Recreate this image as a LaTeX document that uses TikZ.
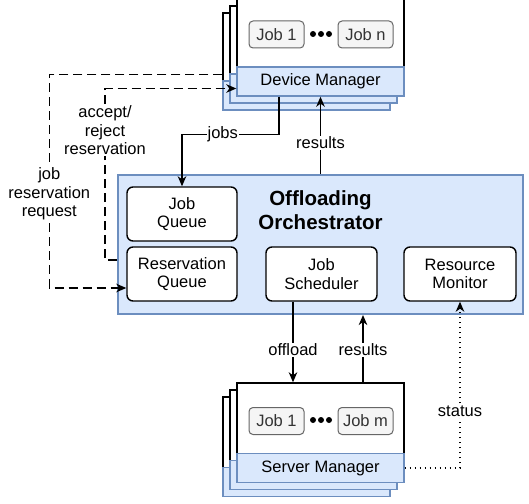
\documentclass[tikz,border=0pt]{standalone}
\usepackage{fontspec}
\setmainfont{Liberation Sans}
\usetikzlibrary{arrows.meta,positioning,calc}
\definecolor{offBlue}{HTML}{DAE8FC}
\definecolor{offBorder}{HTML}{6C8EBF}
\definecolor{chipFill}{HTML}{F5F5F5}
\definecolor{chipLine}{HTML}{666666}
\definecolor{chipText}{HTML}{333333}

\begin{document}
\begin{tikzpicture}[x=1pt, y=-1pt,
  font=\fontsize{16.5}{18.5}\selectfont,
  orch/.style={draw=offBorder, fill=offBlue, line width=2pt,
               minimum width=405pt, minimum height=139pt},
  comp/.style={draw, fill=white, line width=1.4pt, rounded corners=6pt,
               minimum width=110pt, minimum height=54pt, align=center},
  body/.style={draw, fill=white, line width=1.4pt, minimum width=167pt, minimum height=71pt},
  bar/.style={draw=offBorder, fill=offBlue, line width=1.4pt,
              minimum width=167pt, minimum height=29pt},
  chip/.style={draw=chipLine, fill=chipFill, text=chipText, line width=1pt,
               rounded corners=4pt, minimum width=55pt, minimum height=27pt},
  arr/.style={line width=1.4pt, -{Stealth[length=10pt,width=8.5pt,inset=3pt]}},
  req/.style={arr, dash pattern=on 9pt off 5pt},
  mon/.style={arr, dash pattern=on 1.4pt off 3.6pt},
  lbl/.style={fill=white, inner sep=1pt, align=center}
]
  \useasboundingbox (0,0) rectangle (529,503);

  % orchestrator and its parts
  \node[orch] (orch) at (320.5,244.5) {};
  \node[font=\fontsize{20.5}{24}\selectfont\bfseries, align=center] (title) at (320.5,210) {Offloading\\Orchestrator};
  \node[comp] (jq) at (182,214) {Job\\Queue};
  \node[comp] (rq) at (182,274) {Reservation\\Queue};
  \node[comp, minimum width=111pt] (js) at (321.5,274) {Job\\Scheduler};
  \node[comp, minimum width=112pt] (rm) at (460,274) {Resource\\Monitor};

  % device manager stack
  \foreach \d/\n in {14/c,7/b}{
    \node[body, minimum height=68pt] (dbody\n) at (320.5-\d,33+\d) {};
    \node[bar] (dbar\n) at (320.5-\d,81.5+\d) {};
  }
  \node[body, minimum height=68pt] (dbody) at (320.5,33) {};
  \node[bar] (dm) at (320.5,81.5) {Device Manager};
  \node[chip] (dj1) at (276.5,34.5) {Job 1};
  \node[chip] (djn) at (365.5,34.5) {Job n};
  \foreach \x in {313,321,329} \fill (\x,34) circle (3pt);

  % server manager stack
  \foreach \d/\n in {14/c,7/b}{
    \node[body] (sbody\n) at (320.5-\d,418.5+\d) {};
    \node[bar] (sbar\n) at (320.5-\d,468+\d) {};
  }
  \node[body] (sbody) at (320.5,418.5) {};
  \node[bar] (sm) at (320.5,468) {Server Manager};
  \node[chip] (sj1) at (276.5,421) {Job 1};
  \node[chip] (sjm) at (365.5,421) {Job m};
  \foreach \x in {313,321,329} \fill (\x,420) circle (3pt);

  % reservations
  \draw[req] ($(dbodyc.north west)+(0,62)$) -- ++(-173,0)
    |- node[lbl,pos=0.28] (lreq) {job\\reservation\\request} ($(rq.west)+(0,14)$);
  \draw[req] ($(orch.west)+(0,15.5)$) -- ++(-12,0)
    |- node[lbl,pos=0.378] (lacc) {accept/\\reject\\reservation} ($(dm.west)+(0,7)$);

  % jobs and results
  \draw[arr] ($(dm.south)+(-41.5,0)$) -- ++(0,38) -| node[lbl,pos=0.29] (ljobs) {jobs} (jq.north);
  \draw[arr] (orch.north) -- node[lbl,pos=0.4] (lres1) {results} (dm.south);

  \coordinate (offsrc) at ($(js.south)+(-28.5,0)$);
  \coordinate (ressrc) at ($(sbody.north)+(42.5,0)$);
  \draw[arr] (offsrc) -- node[lbl,pos=0.6] (loff) {offload} (offsrc |- sbody.north);
  \draw[arr] (ressrc) -- node[lbl,pos=0.48] (lres2) {results} (ressrc |- orch.south);
  \draw[mon] (sm.east) -| node[lbl,pos=0.67] (lstat) {status} (rm.south);
\end{tikzpicture}
\end{document}
